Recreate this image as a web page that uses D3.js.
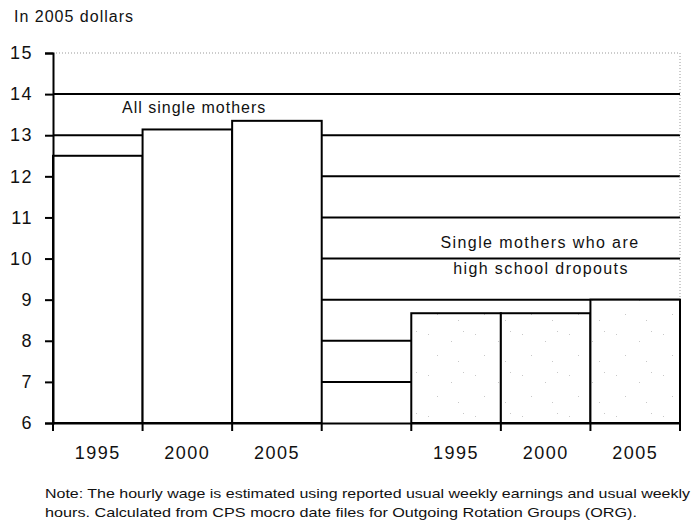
<!DOCTYPE html>
<html>
<head>
<meta charset="utf-8">
<script src="https://cdn.jsdelivr.net/npm/d3@7"></script>
<style>
  body { margin: 0; background: #fff; }
  text { font-family: "Liberation Sans", Arial, sans-serif; fill: #111; }
</style>
</head>
<body>
<svg id="chart" width="693" height="527"></svg>
<script>
// category slots along the x axis (one empty slot between the groups)
const slots = ["all-1995", "all-2000", "all-2005", "gap", "drop-1995", "drop-2000", "drop-2005"];
const slotLabels = ["1995", "2000", "2005", "", "1995", "2000", "2005"];
const allMothers = [12.5, 13.14, 13.35];
const dropouts = [8.67, 8.67, 9.0];
const yTicks = [6, 7, 8, 9, 10, 11, 12, 13, 14, 15];

const bars = [
    { key: "all-1995", value: allMothers[0], group: "all" },
    { key: "all-2000", value: allMothers[1], group: "all" },
    { key: "all-2005", value: allMothers[2], group: "all" },
    { key: "drop-1995", value: dropouts[0], group: "drop" },
    { key: "drop-2000", value: dropouts[1], group: "drop" },
    { key: "drop-2005", value: dropouts[2], group: "drop" }
];

const svg = d3.select("#chart");
const plotLeft = 53, plotRight = 680, plotTop = 53, plotBottom = 423;

const x = d3.scaleBand().domain(slots).range([plotLeft, plotRight]).padding(0);
const y = d3.scaleLinear().domain([6, 15]).range([plotBottom, plotTop]);

// sparse stipple for the dropout bars
const defs = svg.append("defs");
const pat = defs.append("pattern")
    .attr("id", "stipple")
    .attr("patternUnits", "userSpaceOnUse")
    .attr("width", 47).attr("height", 41);
pat.append("rect").attr("width", 47).attr("height", 41).attr("fill", "#fff");
[[5, 6], [28, 13], [40, 3], [14, 27], [35, 33]].forEach(p => {
    pat.append("rect").attr("x", p[0]).attr("y", p[1])
        .attr("width", 1).attr("height", 1).attr("fill", "#c8c8c8");
});

// gridlines
svg.append("g")
    .selectAll("line")
    .data(yTicks.filter(d => d > 6))
    .join("line")
    .attr("x1", plotLeft).attr("x2", plotRight)
    .attr("y1", d => y(d)).attr("y2", d => y(d))
    .attr("stroke", d => d === 15 ? "#999" : "#000")
    .attr("stroke-width", d => d === 15 ? 1 : 2)
    .attr("stroke-dasharray", d => d === 15 ? "1,2" : null);

// dotted right border
svg.append("line")
    .attr("x1", plotRight).attr("x2", plotRight)
    .attr("y1", y(15)).attr("y2", y(6))
    .attr("stroke", "#999").attr("stroke-dasharray", "1,2");

// bars
svg.append("g")
    .selectAll("rect")
    .data(bars)
    .join("rect")
    .attr("x", d => x(d.key))
    .attr("y", d => y(d.value))
    .attr("width", x.bandwidth())
    .attr("height", d => y(6) - y(d.value))
    .attr("fill", d => d.group === "drop" ? "url(#stipple)" : "#fff")
    .attr("stroke", "#000")
    .attr("stroke-width", 2);

// y axis
const yAxis = svg.append("g")
    .attr("transform", `translate(${plotLeft},0)`)
    .call(d3.axisLeft(y).tickValues(yTicks).tickSize(8).tickPadding(12));
yAxis.select(".domain").attr("stroke-width", 2);
yAxis.selectAll(".tick line").attr("stroke-width", 2);
yAxis.selectAll("text")
    .style("font-size", "18px")
    .style("letter-spacing", "1.5px")
    .attr("fill", "#111");

// x axis
const xAxis = svg.append("g")
    .attr("transform", `translate(0,${plotBottom})`)
    .call(d3.axisBottom(x).tickSize(0).tickFormat((d, i) => slotLabels[i]).tickPadding(23));
xAxis.select(".domain").attr("stroke-width", 2);
xAxis.selectAll("text")
    .style("font-size", "18px")
    .style("letter-spacing", "1.5px")
    .attr("fill", "#111");

// boundary ticks on the x axis
const edges = slots.map(s => x(s)).concat([plotRight]);
svg.append("g")
    .selectAll("line")
    .data(edges)
    .join("line")
    .attr("x1", d => d).attr("x2", d => d)
    .attr("y1", plotBottom).attr("y2", plotBottom + 8)
    .attr("stroke", "#000").attr("stroke-width", 2);

// titles and annotations
svg.append("text").attr("x", 14).attr("y", 22)
    .style("font-size", "16px").style("letter-spacing", "1px")
    .text("In 2005 dollars");

svg.append("text").attr("x", 122).attr("y", 113)
    .style("font-size", "16px").style("letter-spacing", "1px")
    .text("All single mothers");

svg.append("text").attr("x", 540).attr("y", 248).attr("text-anchor", "middle")
    .style("font-size", "16px").style("letter-spacing", "1.4px")
    .text("Single mothers who are");
svg.append("text").attr("x", 541).attr("y", 274).attr("text-anchor", "middle")
    .style("font-size", "16px").style("letter-spacing", "1.4px")
    .text("high school dropouts");

// note
svg.append("text").attr("x", 45).attr("y", 498)
    .style("font-size", "13px")
    .attr("textLength", 645).attr("lengthAdjust", "spacingAndGlyphs")
    .text("Note: The hourly wage is estimated using reported usual weekly earnings and usual weekly");
svg.append("text").attr("x", 45).attr("y", 517)
    .style("font-size", "13px")
    .attr("textLength", 592).attr("lengthAdjust", "spacingAndGlyphs")
    .text("hours. Calculated from CPS mocro date files for Outgoing Rotation Groups (ORG).");
</script>
</body>
</html>
